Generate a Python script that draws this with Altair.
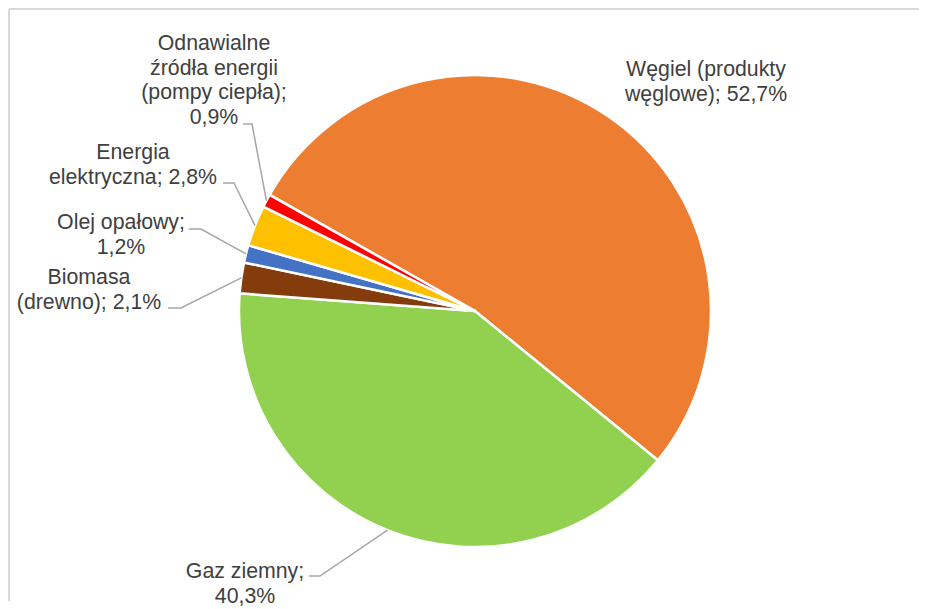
import math
import numpy as np
import pandas as pd
import altair as alt

# ---- data ----
categories = [
    "Węgiel (produkty węglowe)",
    "Gaz ziemny",
    "Biomasa (drewno)",
    "Olej opałowy",
    "Energia elektryczna",
    "Odnawialne źródła energii (pompy ciepła)",
]
shares = [52.7, 40.3, 2.1, 1.2, 2.8, 0.9]
colors = ["#ED7D31", "#92D050", "#843C0C", "#4472C4", "#FFC000", "#FF0000"]
# label text with the line breaks used in the picture
label_names = [
    "Węgiel (produkty\nwęglowe)",
    "Gaz ziemny",
    "Biomasa\n(drewno)",
    "Olej opałowy",
    "Energia\nelektryczna",
    "Odnawialne\nźródła energii\n(pompy ciepła)",
]
label_seps = ["; ", ";\n", "; ", ";\n", "; ", ";\n"]

# ---- layout (chart pixel coordinates) ----
W, H = 910, 592
CX, CY, R = 466, 302, 236
START = math.radians(-60.5)
label_x = [697, 236, 80, 112, 124, 205]
label_y = [61, 563, 269, 214, 144, 35]   # centre of the first line
has_leader = [False, True, True, True, True, True]
leader_start_x = [0, 300, 159, 180, 214, 234]
leader_elbow_x = [0, 311, 172, 192, 225, 243]
leader_y = [0, 567, 299, 220, 174, 115]

def fmt(v):
    return f"{v:.1f}".replace(".", ",") + "%"

df = pd.DataFrame({
    "cat": categories,
    "value": shares,
    "idx": list(range(len(categories))),
})

labels = pd.DataFrame({
    "cat": categories,
    "text": [n + s + fmt(v) for n, s, v in zip(label_names, label_seps, shares)],
    "x": label_x,
    "y": label_y,
})

frac = np.array(shares) / sum(shares)
mid = np.cumsum(frac) - frac / 2
ang = START + 2 * math.pi * mid
edge_x = CX + R * np.sin(ang)
edge_y = CY - R * np.cos(ang)

rows = []
for i, c in enumerate(categories):
    if not has_leader[i]:
        continue
    rows.append({"cat": c, "o": 0, "x": leader_start_x[i], "y": leader_y[i]})
    rows.append({"cat": c, "o": 1, "x": leader_elbow_x[i], "y": leader_y[i]})
    rows.append({"cat": c, "o": 2, "x": float(edge_x[i]), "y": float(edge_y[i])})
leaders = pd.DataFrame(rows)

xs = alt.Scale(domain=[0, W], nice=False, zero=False)
ys = alt.Scale(domain=[0, H], nice=False, zero=False, reverse=True)

pie = alt.Chart(df).mark_arc(outerRadius=R, stroke="white", strokeWidth=2.5).encode(
    theta=alt.Theta("value:Q", stack=True,
                    scale=alt.Scale(range=[START, START + 2 * math.pi])),
    color=alt.Color("cat:N", scale=alt.Scale(domain=categories, range=colors), legend=None),
    order=alt.Order("idx:Q"),
    x=alt.value(CX),
    y=alt.value(CY),
)

lines = alt.Chart(leaders).mark_line(color="#A6A6A6", strokeWidth=1.5).encode(
    x=alt.X("x:Q", scale=xs, axis=None),
    y=alt.Y("y:Q", scale=ys, axis=None),
    detail="cat:N",
    order="o:Q",
)

texts = alt.Chart(labels).mark_text(
    font="Liberation Sans", fontSize=21.3, color="#404040",
    align="center", baseline="middle", lineBreak="\n", lineHeight=24.5,
).encode(
    x=alt.X("x:Q", scale=xs, axis=None),
    y=alt.Y("y:Q", scale=ys, axis=None),
    text="text:N",
)

frame_top = alt.Chart(df).mark_rule(color="#D9D9D9", strokeWidth=1.5).encode(
    x=alt.value(0), x2=alt.value(W), y=alt.value(0)
)
frame_left = alt.Chart(df).mark_rule(color="#D9D9D9", strokeWidth=1.5).encode(
    x=alt.value(0), y=alt.value(0), y2=alt.value(H)
)

chart = alt.layer(frame_top, frame_left, pie, lines, texts).properties(
    width=W, height=H, padding=0
).configure_view(stroke=None)

chart.save("out.html", embed_options={"renderer": "svg", "actions": False})
